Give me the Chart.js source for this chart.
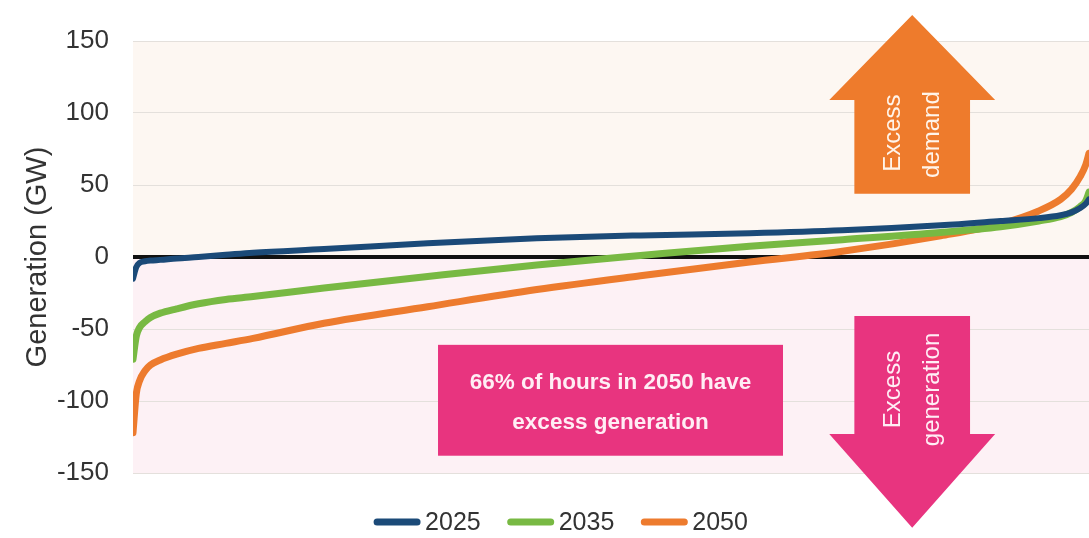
<!DOCTYPE html>
<html>
<head>
<meta charset="utf-8">
<script src="https://cdn.jsdelivr.net/npm/chart.js@4/dist/chart.umd.min.js"></script>
<style>
  html, body { margin: 0; padding: 0; background: #fff; }
  #wrap { width: 1089px; height: 538px; }
</style>
</head>
<body>
<div id="wrap"><canvas id="chart" width="1089" height="538"></canvas></div>
<script>
// hours of the year, sorted duration curve
const hours = [0, 30, 60, 110, 160, 250, 400, 600, 850, 1100, 1750, 2700, 3700, 4650, 5650, 6500, 7400, 7950, 8300, 8500, 8600, 8680, 8730, 8760];

const gen2025 = [-15, -7, -4, -3, -2.5, -2, -1, 0, 1.5, 3, 5.5, 9.5, 13, 15, 16.5, 18.5, 22, 25, 27, 29, 31, 34, 37, 40];
const gen2035 = [-71, -55, -49, -45, -42, -39, -36, -32.5, -29.5, -27.5, -21.5, -13.5, -5.5, 1, 7.5, 12, 17, 21, 25, 28, 31, 35, 39, 45];
const gen2050 = [-122, -95, -86, -79, -75, -71.5, -67.5, -63.5, -60, -56.5, -46, -34.5, -22.6, -13, -3.5, 4, 14.7, 23, 32, 40, 47, 56, 64, 72];

const seriesLabels = ['2025', '2035', '2050'];
const seriesColors = ['#1b4a78', '#78b943', '#ed7b2e'];
const seriesWidths = [6, 7, 7];
const yTicks = [-150, -100, -50, 0, 50, 100, 150];

const FONT = '"Liberation Sans", Arial, sans-serif';

const toPoints = (values) => values.map((v, i) => ({ x: hours[i], y: v }));

const makeDataset = (label, values, color, width) => ({
  label: label,
  data: toPoints(values),
  borderColor: color,
  backgroundColor: color,
  borderWidth: width,
  borderCapStyle: 'round',
  pointRadius: 0,
  cubicInterpolationMode: 'monotone',
  fill: false
});

// shaded halves of the plot, above and below zero
const backgroundBands = {
  id: 'backgroundBands',
  beforeDraw(chart) {
    const { ctx, chartArea, scales } = chart;
    const zeroY = scales.y.getPixelForValue(0);
    ctx.save();
    ctx.fillStyle = '#fdf7f2';
    ctx.fillRect(chartArea.left, chartArea.top, chartArea.right - chartArea.left, zeroY - chartArea.top);
    ctx.fillStyle = '#fdf1f5';
    ctx.fillRect(chartArea.left, zeroY, chartArea.right - chartArea.left, chartArea.bottom - zeroY);
    ctx.restore();
  }
};

const drawArrow = (ctx, cx, tipY, headY, endY, headHalf, shaftHalf, color) => {
  ctx.beginPath();
  ctx.moveTo(cx, tipY);
  ctx.lineTo(cx + headHalf, headY);
  ctx.lineTo(cx + shaftHalf, headY);
  ctx.lineTo(cx + shaftHalf, endY);
  ctx.lineTo(cx - shaftHalf, endY);
  ctx.lineTo(cx - shaftHalf, headY);
  ctx.lineTo(cx - headHalf, headY);
  ctx.closePath();
  ctx.fillStyle = color;
  ctx.fill();
};

const drawVertical = (ctx, text, x, y) => {
  ctx.save();
  ctx.translate(x, y);
  ctx.rotate(-Math.PI / 2);
  ctx.fillText(text, 0, 0);
  ctx.restore();
};

// arrows, callout box and the legend row
const annotations = {
  id: 'annotations',
  afterDraw(chart) {
    const { ctx, scales } = chart;
    const xs = scales.x, ys = scales.y;
    const cx = xs.getPixelForValue(7140);
    const headHalf = xs.getPixelForValue(7900) - cx;
    const shaftHalf = xs.getPixelForValue(7670) - cx;

    ctx.save();
    // excess demand
    drawArrow(ctx, cx, ys.getPixelForValue(168), ys.getPixelForValue(109), ys.getPixelForValue(44), headHalf, shaftHalf, '#ee7b2c');
    // excess generation
    drawArrow(ctx, cx, ys.getPixelForValue(-188), ys.getPixelForValue(-123), ys.getPixelForValue(-41), headHalf, shaftHalf, '#e8347f');

    ctx.font = '24px ' + FONT;
    ctx.textAlign = 'center';
    ctx.textBaseline = 'middle';
    ctx.fillStyle = '#fff4ea';
    drawVertical(ctx, 'Excess', cx - 19, ys.getPixelForValue(86));
    drawVertical(ctx, 'demand', cx + 20, ys.getPixelForValue(85));
    ctx.fillStyle = '#ffeef5';
    drawVertical(ctx, 'Excess', cx - 19, ys.getPixelForValue(-92));
    drawVertical(ctx, 'generation', cx + 20, ys.getPixelForValue(-92));

    // callout
    const bx1 = xs.getPixelForValue(2795), bx2 = xs.getPixelForValue(5956);
    const by1 = ys.getPixelForValue(-61), by2 = ys.getPixelForValue(-138);
    ctx.fillStyle = '#e8347f';
    ctx.fillRect(bx1, by1, bx2 - bx1, by2 - by1);
    ctx.fillStyle = '#ffeef5';
    ctx.font = 'bold 22.5px ' + FONT;
    const mid = (bx1 + bx2) / 2;
    ctx.fillText('66% of hours in 2050 have', mid, by1 + 38);
    ctx.fillText('excess generation', mid, by1 + 78);

    // legend
    const lineLen = 46, gap = 5, spacing = 27, legendY = 522;
    ctx.font = '25px ' + FONT;
    ctx.textAlign = 'left';
    const items = chart.data.datasets.map((d) => ({ label: d.label, color: d.borderColor, w: ctx.measureText(d.label).width }));
    const total = items.reduce((s, it) => s + lineLen + gap + it.w, 0) + spacing * (items.length - 1);
    let x = 561 - total / 2;
    ctx.lineCap = 'round';
    ctx.lineWidth = 7;
    items.forEach((it) => {
      ctx.strokeStyle = it.color;
      ctx.beginPath();
      ctx.moveTo(x + 3, legendY);
      ctx.lineTo(x + lineLen - 3, legendY);
      ctx.stroke();
      ctx.fillStyle = '#333333';
      ctx.fillText(it.label, x + lineLen + gap, legendY + 1);
      x += lineLen + gap + it.w + spacing;
    });
    ctx.restore();
  }
};

new Chart(document.getElementById('chart').getContext('2d'), {
  type: 'line',
  data: {
    datasets: seriesLabels.map((label, i) =>
      makeDataset(label, [gen2025, gen2035, gen2050][i], seriesColors[i], seriesWidths[i]))
  },
  options: {
    responsive: false,
    animation: false,
    layout: { padding: { top: 41, left: 0, right: 0, bottom: 65 } },
    scales: {
      x: {
        type: 'linear',
        min: 0,
        max: 8760,
        display: false
      },
      y: {
        min: -150,
        max: 150,
        afterBuildTicks: (scale) => {
          scale.ticks = yTicks.map((v) => ({ value: v }));
        },
        afterFit: (scale) => {
          scale.width = 133;
        },
        border: { display: false },
        grid: {
          drawTicks: false,
          color: (c) => (c.tick && c.tick.value === 0 ? '#111111' : '#e4e0dc'),
          lineWidth: (c) => (c.tick && c.tick.value === 0 ? 4 : 1)
        },
        ticks: {
          padding: 24,
          color: '#333333',
          font: { family: FONT, size: 26 }
        },
        title: {
          display: true,
          text: 'Generation (GW)',
          color: '#333333',
          font: { family: FONT, size: 29 },
          padding: { top: 21, bottom: 0 }
        }
      }
    },
    plugins: {
      legend: { display: false },
      tooltip: { enabled: false }
    }
  },
  plugins: [backgroundBands, annotations]
});
</script>
</body>
</html>
